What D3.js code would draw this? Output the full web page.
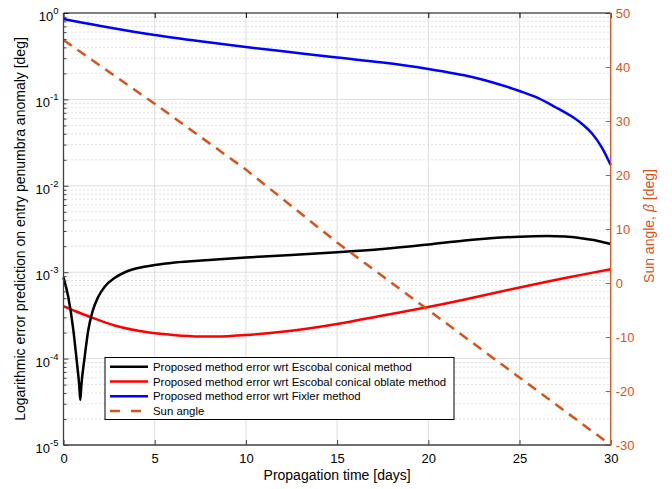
<!DOCTYPE html>
<html><head><meta charset="utf-8">
<script src="https://cdn.jsdelivr.net/npm/d3@7"></script>
<style>body{margin:0;background:#fff}svg{display:block;font-family:"Liberation Sans",Arial,sans-serif}</style>
</head><body>
<svg id="c" width="672" height="489"></svg>
<script>
// ---- data ----
const xTicks = [0,5,10,15,20,25,30];
const yDecades = [-5,-4,-3,-2,-1,0];
const y2Ticks = [-30,-20,-10,0,10,20,30,40,50];

const blackT = [0,0.26,0.54,0.72,0.86,0.92,0.98,1.14,1.36,1.6,1.9,2.27,2.8,3.4,4.1,5,6.1,8,10,12.5,15,17.5,20,22,24,25,26.5,27.5,28.5,29.3,30];
const blackV = [8.73e-4,5.2e-4,2.14e-4,9.64e-5,4.95e-5,3.32e-5,4.95e-5,9.64e-5,2.14e-4,3.56e-4,5.16e-4,6.83e-4,8.57e-4,1.005e-3,1.119e-3,1.211e-3,1.295e-3,1.384e-3,1.479e-3,1.581e-3,1.699e-3,1.856e-3,2.094e-3,2.33e-3,2.52e-3,2.58e-3,2.62e-3,2.59e-3,2.45e-3,2.30e-3,2.12e-3];

const redT = [0,0.7,1.4,2.8,4.7,6,7.5,9,10,12.6,15,17.5,20,22,25,27.5,30];
const redV = [4.06e-4,3.51e-4,3.07e-4,2.42e-4,2.00e-4,1.88e-4,1.80e-4,1.82e-4,1.87e-4,2.11e-4,2.51e-4,3.15e-4,3.96e-4,4.83e-4,6.65e-4,8.57e-4,1.081e-3];

const blueT = [0,2.5,5,7.5,10,12.5,15,17.5,20,22.4,24,25,26,27,28,28.5,29,29.5,30];
const blueV = [0.852,0.68,0.556,0.47,0.404,0.351,0.305,0.267,0.225,0.182,0.147,0.125,0.104,0.0806,0.0609,0.0506,0.0398,0.0281,0.0174];

const sunT = [0,5,10,15,20,25,30];
const sunV = [45,33.2,21,7.5,-5,-17.5,-30];

const legendLabels = ["Proposed method error wrt Escobal conical method","Proposed method error wrt Escobal conical oblate method","Proposed method error wrt Fixler method","Sun angle"];

// ---- chart ----
const svg = d3.select("#c");
const L=63.5, R=610.7, T=13, B=445;
const orange="#D95319";
const x = d3.scaleLinear([0,30],[L,R]);
const y = d3.scaleLog([1e-5,1],[B,T]);
const y2 = d3.scaleLinear([-30,50],[B,T]);

// grid
const minor=[];
for(let k=-5;k<0;k++) for(let m=2;m<=9;m++) minor.push(m*Math.pow(10,k));
const g = svg.append("g");
g.selectAll(".mn").data(minor).join("line")
  .attr("x1",L).attr("x2",R).attr("y1",d=>y(d)).attr("y2",d=>y(d))
  .attr("stroke","#c4c4c4").attr("stroke-width",1).attr("stroke-dasharray","1,3");
g.selectAll(".mj").data(yDecades.slice(1,-1)).join("line")
  .attr("x1",L).attr("x2",R).attr("y1",d=>y(Math.pow(10,d))).attr("y2",d=>y(Math.pow(10,d)))
  .attr("stroke","#dedede").attr("stroke-width",1);
g.selectAll(".vx").data(xTicks.slice(1,-1)).join("line")
  .attr("x1",d=>x(d)).attr("x2",d=>x(d)).attr("y1",T).attr("y2",B)
  .attr("stroke","#dedede").attr("stroke-width",1);

// lines
const logLine = (T_,V_,c) => d3.line().x(i=>x(T_[i])).y(i=>y(V_[i])).curve(c)(d3.range(T_.length));
svg.append("path").attr("d",logLine(redT,redV,d3.curveCatmullRom.alpha(0.5))).attr("fill","none").attr("stroke","#FF0000").attr("stroke-width",2.5);
svg.append("path").attr("d",logLine(blackT,blackV,d3.curveMonotoneX)).attr("fill","none").attr("stroke","#000").attr("stroke-width",2.5);
svg.append("path").attr("d",logLine(blueT,blueV,d3.curveCatmullRom.alpha(0.5))).attr("fill","none").attr("stroke","#0000FF").attr("stroke-width",2.5);
svg.append("path").attr("d",d3.line().x(i=>x(sunT[i])).y(i=>y2(sunV[i]))(d3.range(sunT.length)))
  .attr("fill","none").attr("stroke",orange).attr("stroke-width",2.5).attr("stroke-dasharray","10,7");

// axes
const ax = "#404040";
const styleAxis=(sel,col)=>{sel.select(".domain").remove();sel.selectAll(".tick line").attr("stroke",col);};
const gb = svg.append("g").attr("transform",`translate(0,${B})`)
  .call(d3.axisBottom(x).tickValues(xTicks).tickSize(-5).tickPadding(9).tickFormat(d=>String(d)));
styleAxis(gb,ax);
gb.selectAll("text").attr("font-size",13).attr("fill","#000").attr("font-family","Liberation Sans, Arial");
const gt = svg.append("g").attr("transform",`translate(0,${T})`)
  .call(d3.axisTop(x).tickValues(xTicks).tickSize(-5).tickFormat(""));
styleAxis(gt,"#000");
const gl = svg.append("g").attr("transform",`translate(${L},0)`)
  .call(d3.axisLeft(y).tickValues(yDecades.map(d=>Math.pow(10,d))).tickSize(-5).tickFormat(""));
styleAxis(gl,ax);
const glm = svg.append("g").attr("transform",`translate(${L},0)`)
  .call(d3.axisLeft(y).tickValues(minor).tickSize(-3).tickFormat(""));
styleAxis(glm,ax);
gl.selectAll(".tick").append("text").attr("x",-5).attr("y",7.5).attr("text-anchor","end")
  .attr("fill","#000").attr("font-size",13).attr("font-family","Liberation Sans, Arial")
  .each(function(d){
    const e=Math.round(Math.log10(d));
    const t=d3.select(this);
    t.append("tspan").text("10");
    t.append("tspan").attr("font-size",9.5).attr("dy",-7).text(String(e));
  });
const gr = svg.append("g").attr("transform",`translate(${R},0)`)
  .call(d3.axisRight(y2).tickValues(y2Ticks).tickSize(-5).tickPadding(5).tickFormat(d=>String(d)));
styleAxis(gr,orange);
gr.selectAll("text").attr("font-size",13).attr("fill",orange).attr("font-family","Liberation Sans, Arial");

// frame lines
svg.append("line").attr("x1",L).attr("x2",R).attr("y1",T).attr("y2",T).attr("stroke","#000").attr("stroke-width",1);
svg.append("line").attr("x1",L).attr("x2",R).attr("y1",B).attr("y2",B).attr("stroke",ax).attr("stroke-width",1.3);
svg.append("line").attr("x1",L).attr("x2",L).attr("y1",T).attr("y2",B).attr("stroke",ax).attr("stroke-width",1.3);
svg.append("line").attr("x1",R).attr("x2",R).attr("y1",T).attr("y2",B).attr("stroke",orange).attr("stroke-width",1.3);

// labels
svg.append("text").attr("x",(L+R)/2).attr("y",480).attr("text-anchor","middle").attr("font-size",14).text("Propagation time [days]");
svg.append("text").attr("transform",`translate(25,229) rotate(-90)`).attr("text-anchor","middle").attr("font-size",14)
  .text("Logarithmic error prediction on entry penumbra anomaly [deg]");
const rl = svg.append("text").attr("transform",`translate(654,226) rotate(-90)`).attr("text-anchor","middle").attr("font-size",14).attr("fill",orange);
rl.append("tspan").text("Sun angle, ");
rl.append("tspan").attr("font-style","italic").text("β");
rl.append("tspan").text(" [deg]");

// legend
const lg = svg.append("g");
lg.append("rect").attr("x",105).attr("y",357.5).attr("width",349).attr("height",62).attr("fill","#fff").attr("stroke","#000").attr("stroke-width",1);
const lcols=["#000","#FF0000","#0000FF",orange];
const ly = d3.scaleLinear([0,3],[366.8,411]);
legendLabels.forEach((s,i)=>{
  const ln = lg.append("line").attr("x1",110).attr("x2",i==3?141:148).attr("y1",ly(i)).attr("y2",ly(i)).attr("stroke",lcols[i]).attr("stroke-width",2.5);
  if(i==3) ln.attr("stroke-dasharray","10,11");
  lg.append("text").attr("x",153).attr("y",ly(i)+4).attr("font-size",11.4).attr("fill","#000").text(s);
});
</script>
</body></html>
